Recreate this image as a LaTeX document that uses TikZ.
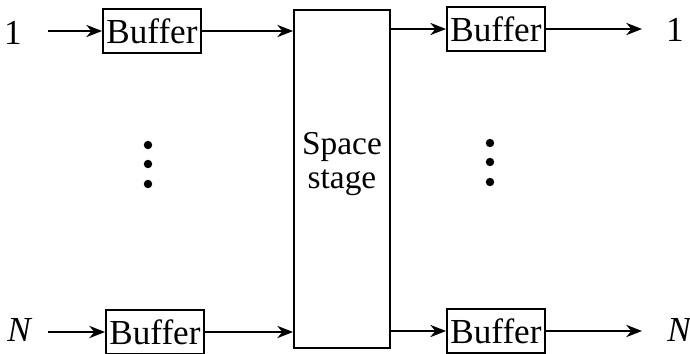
\documentclass[tikz,border=0pt]{standalone}
\usepackage{fontspec}
\setmainfont{Liberation Serif}
\usetikzlibrary{arrows.meta, positioning, calc}

\begin{document}
\begin{tikzpicture}[
    x=0.02cm, y=-0.02cm,
    font=\fontsize{20}{24}\selectfont,
    buf_box/.style={draw, line width=1.1pt, minimum width=1.96cm, minimum height=0.88cm, inner sep=0pt},
    stage_box/.style={draw, line width=1.1pt, minimum width=1.92cm, minimum height=6.76cm, inner sep=0pt},
    port_lbl/.style={inner sep=0pt},
    edge_path/.style={-{Stealth[length=9pt, width=7pt]}, line width=1pt}
  ]
    \useasboundingbox (0,0) rectangle (690,353);

    \node[stage_box] (S) at (342,179) {};
    \node[align=center, font=\fontsize{19}{19}\selectfont] (S_txt) at (342,164) {Space\\stage};

    \node[buf_box] (B1) at (152,31) {Buffer};
    \node[buf_box] (BN) at (155,332) {Buffer};
    \node[buf_box] (C1) at (496,29) {Buffer};
    \node[buf_box] (CN) at (496,331) {Buffer};

    \node[port_lbl] (I1) at (13,33) {1};
    \node[port_lbl] (IN) at (20,330) {\textit{N}};
    \node[port_lbl] (O1) at (675,30) {1};
    \node[port_lbl] (ON) at (680,330) {\textit{N}};

    \coordinate (a1) at (48,31);
    \coordinate (aN) at (48,332);
    \coordinate (z1) at (642,29);
    \coordinate (zN) at (642,331);

    \draw[edge_path] (a1) -- (B1);
    \draw[edge_path] (aN) -- (BN);
    \draw[edge_path] (B1) -- (B1 -| S.west);
    \draw[edge_path] (BN) -- (BN -| S.west);
    \draw[edge_path] (S.east |- C1) -- (C1);
    \draw[edge_path] (S.east |- CN) -- (CN);
    \draw[edge_path] (C1) -- (z1);
    \draw[edge_path] (CN) -- (zN);

    % vertical dots
    \foreach \yy in {145,164,184} {
      \fill (148,\yy) circle[radius=2.4pt];
      \fill (490,\yy-2) circle[radius=2.4pt];
    }
\end{tikzpicture}
\end{document}
